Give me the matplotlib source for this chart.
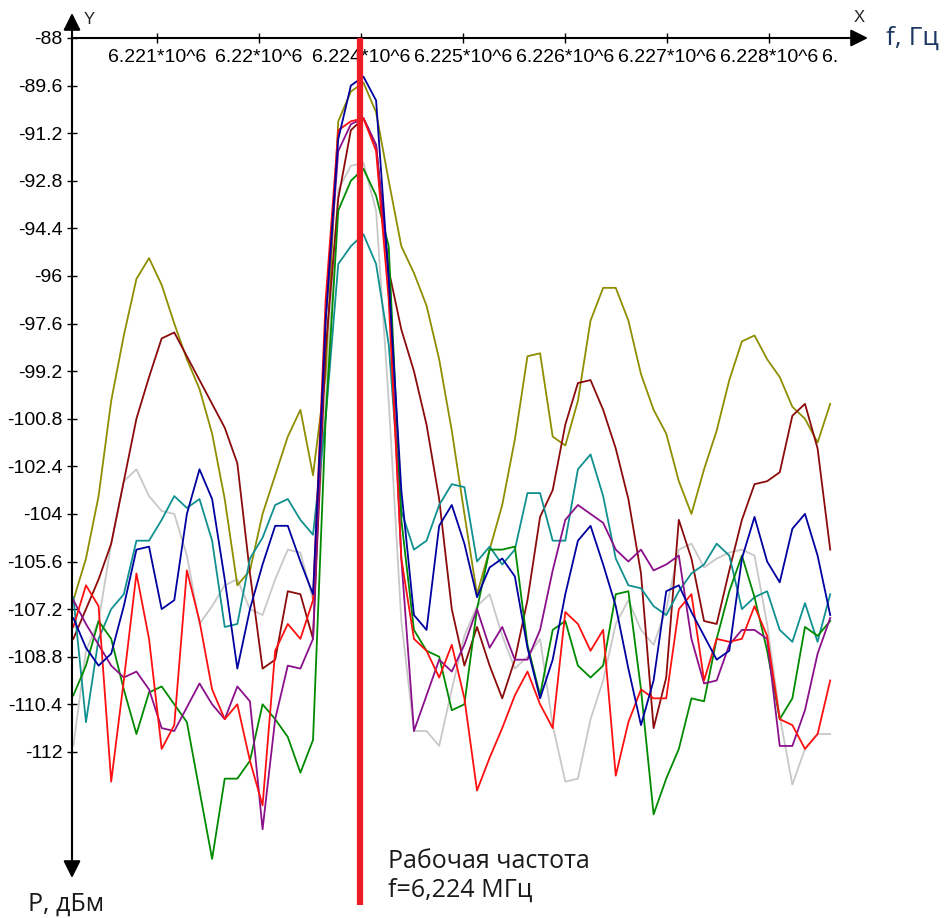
import numpy as np
import matplotlib
matplotlib.use('Agg')
import matplotlib.pyplot as plt

# === Data ===
# sweep grid, MHz (61 points from the first to the last sample)
freq_mhz = np.linspace(6.22018, 6.22760, 61)

olive = [-106.9, -105.5, -103.4, -100.2, -98.0, -96.1, -95.4, -96.3, -97.6, -98.8,
         -99.8, -101.3, -103.5, -106.4, -105.9, -104.0, -102.7, -101.4, -100.5, -102.7,
         -99.3, -90.8, -89.8, -89.5, -90.5, -92.8, -95.0, -95.9, -97.0, -98.8,
         -101.2, -104.0, -106.7, -105.2, -103.7, -101.5, -98.7, -98.6, -101.4, -101.7,
         -100.2, -97.5, -96.4, -96.4, -97.5, -99.3, -100.5, -101.3, -102.9, -104.0,
         -102.5, -101.2, -99.5, -98.2, -98.0, -98.8, -99.4, -100.4, -100.8, -101.6, -100.3]

dark_red = [-108.2, -107.2, -106.2, -105.0, -102.9, -100.8, -99.4, -98.1, -97.9, -98.7,
            -99.5, -100.3, -101.1, -102.3, -106.0, -109.2, -108.9, -106.6, -106.7, -108.2,
            -98.5, -93.4, -91.1, -90.7, -91.6, -95.8, -97.8, -99.2, -101.0, -103.5,
            -107.2, -109.1, -107.8, -109.1, -110.2, -108.9, -106.9, -104.1, -103.2, -101.0,
            -99.6, -99.5, -100.5, -101.8, -103.5, -106.0, -111.2, -109.5, -104.2, -105.5,
            -107.6, -107.7, -105.9, -104.2, -103.0, -102.9, -102.6, -100.7, -100.3, -101.8, -105.2]

blue = [-107.5, -108.5, -109.1, -108.7, -107.1, -105.2, -105.1, -107.2, -106.9, -104.0,
        -102.5, -103.5, -106.2, -109.2, -107.2, -105.7, -104.4, -104.4, -105.6, -106.7,
        -97.5, -91.4, -89.6, -89.3, -90.1, -96.1, -103.2, -107.4, -107.9, -104.4,
        -103.7, -105.0, -106.8, -105.8, -105.5, -106.1, -108.5, -110.2, -108.9, -106.7,
        -104.9, -104.4, -105.7, -107.1, -109.2, -111.1, -109.6, -106.6, -106.4, -107.3,
        -108.1, -108.9, -108.6, -105.5, -104.1, -105.6, -106.3, -104.5, -104.0, -105.4, -107.4]

teal = [-106.8, -111.0, -108.2, -107.2, -106.7, -104.9, -104.9, -104.2, -103.4, -103.8,
        -103.5, -104.9, -107.8, -107.7, -105.5, -104.8, -103.7, -103.5, -104.2, -104.7,
        -100.8, -95.6, -95.0, -94.6, -95.6, -98.3, -103.9, -105.2, -104.9, -103.7,
        -103.0, -103.1, -105.6, -105.1, -105.7, -105.2, -103.3, -103.3, -104.9, -104.9,
        -102.5, -102.0, -103.4, -105.5, -106.4, -106.5, -107.1, -107.4, -106.6, -106.0,
        -105.7, -105.0, -105.4, -107.2, -106.8, -106.6, -107.9, -108.3, -107.0, -108.3, -106.7]

gray = [-111.8, -108.6, -107.6, -105.0, -102.9, -102.5, -103.4, -103.9, -104.0, -105.4,
        -107.7, -107.1, -106.4, -106.2, -107.2, -107.4, -106.2, -105.2, -105.3, -106.9,
        -100.2, -93.1, -92.3, -92.2, -93.8, -100.2, -107.6, -111.3, -111.3, -111.8,
        -109.9, -108.1, -107.1, -106.7, -108.1, -109.2, -108.8, -108.2, -111.1, -113.0,
        -112.9, -110.9, -109.6, -107.7, -106.9, -107.9, -108.4, -107.2, -105.2, -105.0,
        -105.8, -105.5, -105.3, -105.2, -105.4, -107.7, -110.8, -113.1, -111.9, -111.4, -111.4]

red = [-107.8, -106.4, -107.1, -113.0, -109.6, -106.0, -108.2, -111.9, -111.1, -105.9,
       -107.6, -109.9, -110.9, -110.4, -112.3, -113.8, -108.6, -107.7, -108.2, -106.9,
       -96.8, -91.1, -90.8, -90.7, -91.8, -96.8, -105.5, -108.2, -108.6, -109.5,
       -108.4, -110.2, -113.3, -112.2, -111.2, -110.1, -109.3, -110.4, -111.2, -107.3,
       -107.7, -108.6, -107.9, -112.8, -111.0, -109.9, -110.2, -110.2, -107.2, -106.7,
       -109.6, -108.2, -108.3, -108.2, -107.1, -108.1, -110.9, -111.1, -111.9, -111.4, -109.6]

purple = [-106.9, -107.7, -108.4, -109.1, -109.5, -109.3, -109.9, -111.2, -111.3, -110.5,
          -109.7, -110.4, -110.9, -109.8, -110.3, -114.6, -110.9, -109.1, -109.2, -108.2,
          -97.5, -91.8, -90.9, -90.7, -91.6, -96.1, -105.5, -111.3, -110.1, -108.9,
          -109.3, -108.4, -107.2, -108.5, -107.8, -108.9, -108.9, -107.9, -105.9, -104.2,
          -103.7, -104.0, -104.3, -105.2, -105.6, -105.2, -105.9, -105.7, -105.4, -108.2,
          -109.7, -109.6, -108.4, -107.9, -107.9, -108.2, -111.8, -111.8, -110.6, -108.7, -107.5]

green = [-110.1, -109.1, -107.6, -108.2, -109.9, -111.4, -110.0, -109.8, -110.4, -111.0,
         -113.3, -115.6, -112.9, -112.9, -112.3, -110.4, -110.9, -111.5, -112.7, -111.6,
         -100.8, -93.8, -92.8, -92.4, -93.3, -95.0, -104.2, -107.9, -108.6, -108.8,
         -110.6, -110.4, -107.2, -105.2, -105.2, -105.1, -108.4, -110.1, -107.9, -107.6,
         -109.1, -109.5, -109.1, -106.7, -106.6, -109.9, -114.1, -112.9, -111.9, -110.2,
         -110.3, -108.2, -106.6, -105.4, -106.8, -108.6, -110.9, -110.2, -107.8, -108.1, -107.6]

tick_freqs = [6.221, 6.222, 6.223, 6.224, 6.225, 6.226, 6.227]
tick_labels = ['6.221*10^6', '6.22*10^6', '6.224*10^6', '6.225*10^6',
               '6.226*10^6', '6.227*10^6', '6.228*10^6']
y_ticks = [-88, -89.6, -91.2, -92.8, -94.4, -96, -97.6, -99.2, -100.8,
           -102.4, -104, -105.6, -107.2, -108.8, -110.4, -112]
working_freq = 6.22299

# === Figure ===
plt.rcParams['font.family'] = ['Liberation Sans', 'DejaVu Sans']
W, H = 949, 918
fig = plt.figure(figsize=(W / 100, H / 100), dpi=100)
ax = fig.add_axes([72 / W, 1 - 878 / H, 796 / W, 840 / H])
ax.set_xlim(6.2201667, 6.2279706)
ax.set_ylim(-116.24, -88)
for spine in ax.spines.values():
    spine.set_visible(False)

series = [
    (gray, '#C8C8C8'),
    (olive, '#8E8E00'),
    (dark_red, '#8B0A0A'),
    (teal, '#109090'),
    (green, '#008A00'),
    (purple, '#8B108B'),
    (red, '#FF1010'),
    (blue, '#0000A0'),
]
for values, color in series:
    ax.plot(freq_mhz, values, color=color, lw=1.3)

# === Axes with arrows ===
arrow = dict(arrowstyle='-|>', color='black', lw=1.5, mutation_scale=26,
             shrinkA=0, shrinkB=0)
ax.annotate('', xy=(1, 1), xytext=(0, 1), xycoords='axes fraction', arrowprops=arrow)
ax.annotate('', xy=(0, 0), xytext=(0, 1), xycoords='axes fraction', arrowprops=arrow)
ax.annotate('', xy=(0, 1 + 25 / 840), xytext=(0, 1), xycoords='axes fraction',
            arrowprops=arrow)

# === Ticks ===
ax.xaxis.set_ticks_position('top')
ax.set_xticks(tick_freqs, tick_labels)
ax.tick_params(axis='x', direction='inout', length=7, width=1, pad=-24, labelsize=14)
ax.set_yticks(y_ticks, [f'{v:g}' for v in y_ticks])
ax.tick_params(axis='y', direction='inout', length=7, width=1, pad=3.5, labelsize=14)
ax.text(6.22752, (878 - 66.5) / 840, '6.', transform=ax.get_xaxis_transform(),
        ha='left', va='bottom', fontsize=14)

# === Working frequency marker ===
ax.plot([working_freq, working_freq], [-88, -117.14], color='#ED1C24', lw=4.5,
        clip_on=False, zorder=5, solid_capstyle='butt')

# === Labels ===
fig.text(859 / W, 1 - 18 / H, 'X', ha='center', va='center', fontsize=12, color='#222222')
fig.text(89 / W, 1 - 19 / H, 'Y', ha='center', va='center', fontsize=12, color='#222222')
fig.text(886 / W, 1 - 38 / H, 'f, Гц', ha='left', va='center', fontsize=19,
         family='Open Sans', color='#1F3864')
fig.text(28 / W, 1 - 911 / H, 'P, дБм', ha='left', va='baseline', fontsize=18,
         family='Open Sans', color='#1A1A1A')
fig.text(388 / W, 1 - 868 / H, 'Рабочая частота', ha='left', va='baseline', fontsize=18,
         family='Open Sans', color='#1A1A1A')
fig.text(388 / W, 1 - 897 / H, 'f=6,224 МГц', ha='left', va='baseline', fontsize=18,
         family='Open Sans', color='#1A1A1A')

fig.savefig('out.png', dpi=100)
